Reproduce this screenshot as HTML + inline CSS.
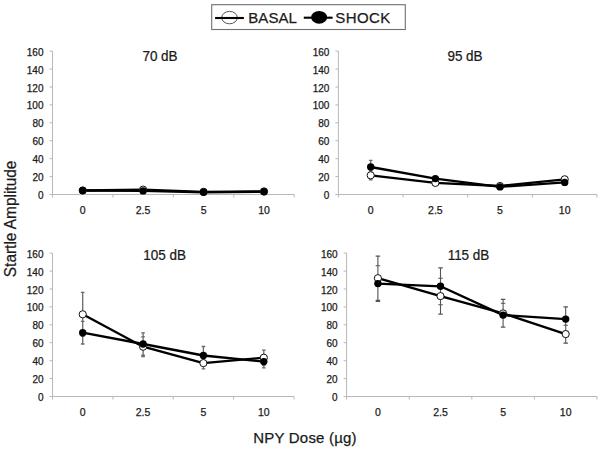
<!DOCTYPE html><html><head><meta charset="utf-8"><style>html,body{margin:0;padding:0;background:#fff;width:602px;height:451px;overflow:hidden}svg{display:block}text{font-family:"Liberation Sans",sans-serif;fill:#1a1a1a;stroke:#1a1a1a;stroke-width:0.25px}</style></head><body>
<svg width="602" height="451" viewBox="0 0 602 451">
<rect width="602" height="451" fill="#fff"/>
<path d="M52.5 51.1V197.5M52.5 194.5H294.2" stroke="#b8b8b8" stroke-width="1" fill="none"/>
<path d="M49.5 194.5H52.5M49.5 176.6H52.5M49.5 158.7H52.5M49.5 140.7H52.5M49.5 122.8H52.5M49.5 104.9H52.5M49.5 87.0H52.5M49.5 69.1H52.5M49.5 51.1H52.5M112.9 194.5V197.5M173.3 194.5V197.5M233.8 194.5V197.5M294.2 194.5V197.5" stroke="#b8b8b8" stroke-width="1" fill="none"/>
<text x="43.5" y="199.0" font-size="10" text-anchor="end">0</text>
<text x="43.5" y="181.1" font-size="10" text-anchor="end">20</text>
<text x="43.5" y="163.2" font-size="10" text-anchor="end">40</text>
<text x="43.5" y="145.2" font-size="10" text-anchor="end">60</text>
<text x="43.5" y="127.3" font-size="10" text-anchor="end">80</text>
<text x="43.5" y="109.4" font-size="10" text-anchor="end">100</text>
<text x="43.5" y="91.5" font-size="10" text-anchor="end">120</text>
<text x="43.5" y="73.6" font-size="10" text-anchor="end">140</text>
<text x="43.5" y="55.6" font-size="10" text-anchor="end">160</text>
<text x="82.7" y="214.0" font-size="10.5" text-anchor="middle">0</text>
<text x="143.1" y="214.0" font-size="10.5" text-anchor="middle">2.5</text>
<text x="203.6" y="214.0" font-size="10.5" text-anchor="middle">5</text>
<text x="264.0" y="214.0" font-size="10.5" text-anchor="middle">10</text>
<text x="0" y="0" font-size="14.5" text-anchor="middle" transform="translate(160.0 61.3) scale(0.93 1)">70 dB</text>
<path d="" stroke="#6a6a6a" stroke-width="1.3" fill="none"/>
<polyline points="82.7,190.5 143.1,189.6 203.6,191.8 264.0,191.4" stroke="#000" stroke-width="2.3" fill="none" stroke-linejoin="round"/>
<polyline points="82.7,190.5 143.1,190.9 203.6,192.3 264.0,191.8" stroke="#000" stroke-width="2.3" fill="none" stroke-linejoin="round"/>
<circle cx="82.7" cy="190.5" r="3.6" fill="#fff" stroke="#111" stroke-width="1"/>
<circle cx="143.1" cy="189.6" r="3.6" fill="#fff" stroke="#111" stroke-width="1"/>
<circle cx="203.6" cy="191.8" r="3.6" fill="#fff" stroke="#111" stroke-width="1"/>
<circle cx="264.0" cy="191.4" r="3.6" fill="#fff" stroke="#111" stroke-width="1"/>
<circle cx="82.7" cy="190.5" r="3.7" fill="#000"/>
<circle cx="143.1" cy="190.9" r="3.7" fill="#000"/>
<circle cx="203.6" cy="192.3" r="3.7" fill="#000"/>
<circle cx="264.0" cy="191.8" r="3.7" fill="#000"/>
<path d="M338.4 51.1V197.5M338.4 194.5H597.0" stroke="#b8b8b8" stroke-width="1" fill="none"/>
<path d="M335.4 194.5H338.4M335.4 176.6H338.4M335.4 158.7H338.4M335.4 140.7H338.4M335.4 122.8H338.4M335.4 104.9H338.4M335.4 87.0H338.4M335.4 69.1H338.4M335.4 51.1H338.4M403.0 194.5V197.5M467.7 194.5V197.5M532.4 194.5V197.5M597.0 194.5V197.5" stroke="#b8b8b8" stroke-width="1" fill="none"/>
<text x="329.4" y="199.0" font-size="10" text-anchor="end">0</text>
<text x="329.4" y="181.1" font-size="10" text-anchor="end">20</text>
<text x="329.4" y="163.2" font-size="10" text-anchor="end">40</text>
<text x="329.4" y="145.2" font-size="10" text-anchor="end">60</text>
<text x="329.4" y="127.3" font-size="10" text-anchor="end">80</text>
<text x="329.4" y="109.4" font-size="10" text-anchor="end">100</text>
<text x="329.4" y="91.5" font-size="10" text-anchor="end">120</text>
<text x="329.4" y="73.6" font-size="10" text-anchor="end">140</text>
<text x="329.4" y="55.6" font-size="10" text-anchor="end">160</text>
<text x="370.7" y="214.0" font-size="10.5" text-anchor="middle">0</text>
<text x="435.4" y="214.0" font-size="10.5" text-anchor="middle">2.5</text>
<text x="500.0" y="214.0" font-size="10.5" text-anchor="middle">5</text>
<text x="564.7" y="214.0" font-size="10.5" text-anchor="middle">10</text>
<text x="0" y="0" font-size="14.5" text-anchor="middle" transform="translate(465.0 61.3) scale(0.93 1)">95 dB</text>
<path d="M370.7 170.8V179.8M368.92 170.8h3.6M368.92 179.8h3.6M370.7 160.3V173.7M368.92 160.3h3.6M368.92 173.7h3.6" stroke="#6a6a6a" stroke-width="1.3" fill="none"/>
<polyline points="370.7,175.3 435.4,182.9 500.0,186.0 564.7,179.3" stroke="#000" stroke-width="2.3" fill="none" stroke-linejoin="round"/>
<polyline points="370.7,167.0 435.4,178.6 500.0,186.9 564.7,182.4" stroke="#000" stroke-width="2.3" fill="none" stroke-linejoin="round"/>
<circle cx="370.7" cy="175.3" r="3.6" fill="#fff" stroke="#111" stroke-width="1"/>
<circle cx="435.4" cy="182.9" r="3.6" fill="#fff" stroke="#111" stroke-width="1"/>
<circle cx="500.0" cy="186.0" r="3.6" fill="#fff" stroke="#111" stroke-width="1"/>
<circle cx="564.7" cy="179.3" r="3.6" fill="#fff" stroke="#111" stroke-width="1"/>
<circle cx="370.7" cy="167.0" r="3.7" fill="#000"/>
<circle cx="435.4" cy="178.6" r="3.7" fill="#000"/>
<circle cx="500.0" cy="186.9" r="3.7" fill="#000"/>
<circle cx="564.7" cy="182.4" r="3.7" fill="#000"/>
<path d="M52.5 253.1V399.5M52.5 396.5H294.0" stroke="#b8b8b8" stroke-width="1" fill="none"/>
<path d="M49.5 396.5H52.5M49.5 378.6H52.5M49.5 360.7H52.5M49.5 342.7H52.5M49.5 324.8H52.5M49.5 306.9H52.5M49.5 289.0H52.5M49.5 271.1H52.5M49.5 253.1H52.5M112.9 396.5V399.5M173.2 396.5V399.5M233.6 396.5V399.5M294.0 396.5V399.5" stroke="#b8b8b8" stroke-width="1" fill="none"/>
<text x="43.5" y="401.0" font-size="10" text-anchor="end">0</text>
<text x="43.5" y="383.1" font-size="10" text-anchor="end">20</text>
<text x="43.5" y="365.2" font-size="10" text-anchor="end">40</text>
<text x="43.5" y="347.2" font-size="10" text-anchor="end">60</text>
<text x="43.5" y="329.3" font-size="10" text-anchor="end">80</text>
<text x="43.5" y="311.4" font-size="10" text-anchor="end">100</text>
<text x="43.5" y="293.5" font-size="10" text-anchor="end">120</text>
<text x="43.5" y="275.6" font-size="10" text-anchor="end">140</text>
<text x="43.5" y="257.6" font-size="10" text-anchor="end">160</text>
<text x="82.7" y="416.0" font-size="10.5" text-anchor="middle">0</text>
<text x="143.1" y="416.0" font-size="10.5" text-anchor="middle">2.5</text>
<text x="203.4" y="416.0" font-size="10.5" text-anchor="middle">5</text>
<text x="263.8" y="416.0" font-size="10.5" text-anchor="middle">10</text>
<text x="0" y="0" font-size="14.5" text-anchor="middle" transform="translate(164.6 259.8) scale(0.93 1)">105 dB</text>
<path d="M82.7 292.4V336.3M80.89 292.4h3.6M80.89 336.3h3.6M143.1 336.8V356.5M141.26 336.8h3.6M141.26 356.5h3.6M203.4 357.3V368.9M201.64 357.3h3.6M201.64 368.9h3.6M263.8 350.1V365.3M262.01 350.1h3.6M262.01 365.3h3.6M82.7 321.4V344.0M80.89 321.4h3.6M80.89 344.0h3.6M143.1 332.8V355.2M141.26 332.8h3.6M141.26 355.2h3.6M203.4 346.5V364.4M201.64 346.5h3.6M201.64 364.4h3.6M263.8 355.3V367.8M262.01 355.3h3.6M262.01 367.8h3.6" stroke="#6a6a6a" stroke-width="1.3" fill="none"/>
<polyline points="82.7,314.3 143.1,346.7 203.4,363.1 263.8,357.7" stroke="#000" stroke-width="2.3" fill="none" stroke-linejoin="round"/>
<polyline points="82.7,332.7 143.1,344.0 203.4,355.5 263.8,361.6" stroke="#000" stroke-width="2.3" fill="none" stroke-linejoin="round"/>
<circle cx="82.7" cy="314.3" r="3.6" fill="#fff" stroke="#111" stroke-width="1"/>
<circle cx="143.1" cy="346.7" r="3.6" fill="#fff" stroke="#111" stroke-width="1"/>
<circle cx="203.4" cy="363.1" r="3.6" fill="#fff" stroke="#111" stroke-width="1"/>
<circle cx="263.8" cy="357.7" r="3.6" fill="#fff" stroke="#111" stroke-width="1"/>
<circle cx="82.7" cy="332.7" r="3.7" fill="#000"/>
<circle cx="143.1" cy="344.0" r="3.7" fill="#000"/>
<circle cx="203.4" cy="355.5" r="3.7" fill="#000"/>
<circle cx="263.8" cy="361.6" r="3.7" fill="#000"/>
<path d="M346.6 253.1V399.5M346.6 396.5H597.0" stroke="#b8b8b8" stroke-width="1" fill="none"/>
<path d="M343.6 396.5H346.6M343.6 378.6H346.6M343.6 360.7H346.6M343.6 342.7H346.6M343.6 324.8H346.6M343.6 306.9H346.6M343.6 289.0H346.6M343.6 271.1H346.6M343.6 253.1H346.6M409.2 396.5V399.5M471.8 396.5V399.5M534.4 396.5V399.5M597.0 396.5V399.5" stroke="#b8b8b8" stroke-width="1" fill="none"/>
<text x="337.6" y="401.0" font-size="10" text-anchor="end">0</text>
<text x="337.6" y="383.1" font-size="10" text-anchor="end">20</text>
<text x="337.6" y="365.2" font-size="10" text-anchor="end">40</text>
<text x="337.6" y="347.2" font-size="10" text-anchor="end">60</text>
<text x="337.6" y="329.3" font-size="10" text-anchor="end">80</text>
<text x="337.6" y="311.4" font-size="10" text-anchor="end">100</text>
<text x="337.6" y="293.5" font-size="10" text-anchor="end">120</text>
<text x="337.6" y="275.6" font-size="10" text-anchor="end">140</text>
<text x="337.6" y="257.6" font-size="10" text-anchor="end">160</text>
<text x="377.9" y="416.0" font-size="10.5" text-anchor="middle">0</text>
<text x="440.5" y="416.0" font-size="10.5" text-anchor="middle">2.5</text>
<text x="503.1" y="416.0" font-size="10.5" text-anchor="middle">5</text>
<text x="565.7" y="416.0" font-size="10.5" text-anchor="middle">10</text>
<text x="0" y="0" font-size="14.5" text-anchor="middle" transform="translate(468.5 259.8) scale(0.93 1)">115 dB</text>
<path d="M377.9 256.1V300.4M375.65 256.1h4.5M375.65 300.4h4.5M440.5 278.2V314.1M438.25 278.2h4.5M438.25 314.1h4.5M503.1 299.4V327.3M500.85 299.4h4.5M500.85 327.3h4.5M565.7 325.2V343.1M563.45 325.2h4.5M563.45 343.1h4.5M377.9 265.7V301.5M375.65 265.7h4.5M375.65 301.5h4.5M440.5 267.9V304.7M438.25 267.9h4.5M438.25 304.7h4.5M503.1 303.3V327.0M500.85 303.3h4.5M500.85 327.0h4.5M565.7 306.9V331.3M563.45 306.9h4.5M563.45 331.3h4.5" stroke="#555" stroke-width="1.1" fill="none"/>
<polyline points="377.9,278.2 440.5,296.1 503.1,313.4 565.7,334.1" stroke="#000" stroke-width="2.3" fill="none" stroke-linejoin="round"/>
<polyline points="377.9,283.6 440.5,286.3 503.1,315.1 565.7,319.1" stroke="#000" stroke-width="2.3" fill="none" stroke-linejoin="round"/>
<circle cx="377.9" cy="278.2" r="3.6" fill="#fff" stroke="#111" stroke-width="1"/>
<circle cx="440.5" cy="296.1" r="3.6" fill="#fff" stroke="#111" stroke-width="1"/>
<circle cx="503.1" cy="313.4" r="3.6" fill="#fff" stroke="#111" stroke-width="1"/>
<circle cx="565.7" cy="334.1" r="3.6" fill="#fff" stroke="#111" stroke-width="1"/>
<circle cx="377.9" cy="283.6" r="3.7" fill="#000"/>
<circle cx="440.5" cy="286.3" r="3.7" fill="#000"/>
<circle cx="503.1" cy="315.1" r="3.7" fill="#000"/>
<circle cx="565.7" cy="319.1" r="3.7" fill="#000"/>
<rect x="211.7" y="4.7" width="193.6" height="24.8" fill="#fff" stroke="#707070" stroke-width="1.1"/>
<ellipse cx="229.5" cy="17.6" rx="7.8" ry="6.2" fill="#fff" stroke="#555" stroke-width="1"/>
<path d="M215.1 18H243.9" stroke="#000" stroke-width="2.1"/>
<text x="248.2" y="22.9" font-size="15" letter-spacing="0.1">BASAL</text>
<path d="M303.8 17.7H332.6" stroke="#000" stroke-width="2.1"/>
<ellipse cx="319.15" cy="17.3" rx="8" ry="6.4" fill="#000"/>
<text x="335.2" y="22.9" font-size="15" letter-spacing="0.45">SHOCK</text>
<text x="0" y="0" font-size="16" text-anchor="middle" transform="translate(15.6 218.9) rotate(-90) scale(0.964 1)">Startle Amplitude</text>
<text x="305.05" y="442.6" font-size="15" letter-spacing="0.2" text-anchor="middle">NPY Dose (µg)</text>
</svg></body></html>
